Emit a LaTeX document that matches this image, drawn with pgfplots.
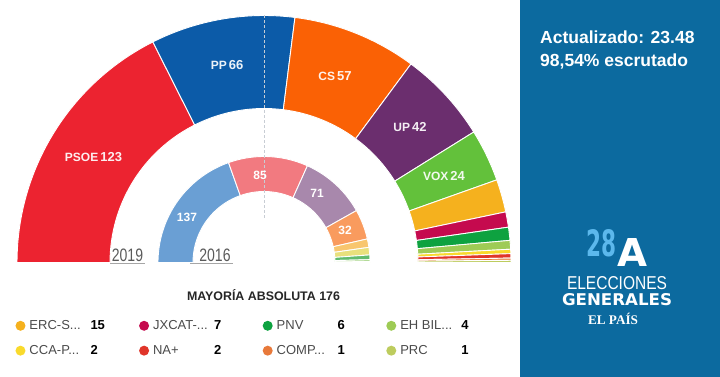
\documentclass[border=0pt]{standalone}
\usepackage{fontspec}
\setmainfont{Liberation Sans}
\newfontfamily\seriffont{Liberation Serif}
\newfontfamily\heavyfont{DejaVu Sans}
\usepackage{graphicx}
\usepackage{pgfplots}
\pgfplotsset{compat=1.18}

% outer ring (2019)
\definecolor{cPSOE}{HTML}{EC2330}
\definecolor{cPP}{HTML}{0C5BA8}
\definecolor{cCS}{HTML}{FA6105}
\definecolor{cUP}{HTML}{6B2E6E}
\definecolor{cVOX}{HTML}{63C13B}
\definecolor{cERC}{HTML}{F5B11E}
\definecolor{cJX}{HTML}{C50A4E}
\definecolor{cPNV}{HTML}{0EA240}
\definecolor{cEH}{HTML}{9ECB55}
\definecolor{cCCA}{HTML}{F9DA2C}
\definecolor{cNA}{HTML}{E0352A}
\definecolor{cCOMP}{HTML}{E8793A}
\definecolor{cPRC}{HTML}{BDCC5E}
% inner ring (2016)
\definecolor{iPP}{HTML}{6A9FD4}
\definecolor{iPSOE}{HTML}{F27A80}
\definecolor{iUP}{HTML}{A888AC}
\definecolor{iCS}{HTML}{F99B5E}
\definecolor{iERC}{HTML}{F8C66E}
\definecolor{iCDC}{HTML}{E8E07C}
\definecolor{iPNV}{HTML}{62BB6E}
\definecolor{iEH}{HTML}{A9D68A}
\definecolor{iCC}{HTML}{D9EBA8}
% misc
\definecolor{panel}{HTML}{0C6A9F}
\definecolor{logoblue}{HTML}{5CB8EC}
\definecolor{legtext}{HTML}{4A4A4A}
\definecolor{yeargray}{HTML}{5A5A5A}
\definecolor{dashgray}{HTML}{C8CDD4}

\newcommand\ringstart{\gdef\cum{0}}
% #1 seats, #2 inner radius, #3 outer radius, #4 colour, #5 extra options
\newcommand\seatwedge[5]{%
  \pgfmathsetmacro\angA{180-\cum*(180/350)}%
  \pgfmathsetmacro\newcum{\cum+#1}%
  \xdef\cum{\newcum}%
  \pgfmathsetmacro\angB{180-\cum*(180/350)}%
  \gdef\pts{}%
  \foreach \k in {0,...,40}{%
    \pgfmathsetmacro\wth{\angA+(\angB-\angA)*\k/40}%
    \pgfmathsetmacro\px{264+#3*cos(\wth)}%
    \pgfmathsetmacro\py{114.5+#3*sin(\wth)}%
    \xdef\pts{\pts(\px,\py)}}%
  \foreach \k in {0,...,40}{%
    \pgfmathsetmacro\wth{\angB-(\angB-\angA)*\k/40}%
    \pgfmathsetmacro\px{264+#2*cos(\wth)}%
    \pgfmathsetmacro\py{114.5+#2*sin(\wth)}%
    \xdef\pts{\pts(\px,\py)}}%
  \edef\doit{\noexpand\addplot[fill=#4, draw=white, line width=0.9pt, line join=round, #5] coordinates {\pts} -- cycle;}%
  \doit}

\begin{document}
\begin{tikzpicture}
\begin{axis}[
  width=720pt, height=377pt, scale only axis,
  xmin=0, xmax=720, ymin=0, ymax=377,
  hide axis,
  legend columns=4,
  legend cell align=left,
  legend image code/.code={\fill[#1,draw=none] (0pt,0pt) circle (5pt);},
  legend style={at={(axis cs:12.3,58.7)}, anchor=north west, draw=none, fill=none,
    font=\fontsize{13}{15}\selectfont, text=legtext,
    nodes={inner sep=0pt},
    row sep=14.3pt,
    /tikz/every odd column/.append style={column sep=4pt},
    /tikz/every even column/.append style={column sep=30.6pt}},
]
% full picture frame (bounding box)
\path (axis cs:0,0) rectangle (axis cs:720,377);
% background panel
\fill[panel] (axis cs:520,0) rectangle (axis cs:720,377);

% ---- 2019 ----
\ringstart
\seatwedge{123}{154}{247}{cPSOE}{forget plot}
\seatwedge{66}{154}{247}{cPP}{forget plot}
\seatwedge{57}{154}{247}{cCS}{forget plot}
\seatwedge{42}{154}{247}{cUP}{forget plot}
\seatwedge{24}{154}{247}{cVOX}{forget plot}
\seatwedge{15}{154}{247}{cERC}{}
\addlegendentry{\makebox[61pt][l]{ERC-S...}\makebox[18pt][l]{\color{black}\bfseries 15}}
\seatwedge{7}{154}{247}{cJX}{}
\addlegendentry{\makebox[61pt][l]{JXCAT-...}\makebox[18pt][l]{\color{black}\bfseries 7}}
\seatwedge{6}{154}{247}{cPNV}{}
\addlegendentry{\makebox[61pt][l]{PNV}\makebox[18pt][l]{\color{black}\bfseries 6}}
\seatwedge{4}{154}{247}{cEH}{}
\addlegendentry{\makebox[61pt][l]{EH BIL...}\makebox[18pt][l]{\color{black}\bfseries 4}}
\seatwedge{2}{154}{247}{cCCA}{}
\addlegendentry{\makebox[61pt][l]{CCA-P...}\makebox[18pt][l]{\color{black}\bfseries 2}}
\seatwedge{2}{154}{247}{cNA}{}
\addlegendentry{\makebox[61pt][l]{NA+}\makebox[18pt][l]{\color{black}\bfseries 2}}
\seatwedge{1}{154}{247}{cCOMP}{}
\addlegendentry{\makebox[61pt][l]{COMP...}\makebox[18pt][l]{\color{black}\bfseries 1}}
\seatwedge{1}{154}{247}{cPRC}{}
\addlegendentry{\makebox[61pt][l]{PRC}\makebox[18pt][l]{\color{black}\bfseries 1}}

% ---- 2016 ----
\ringstart
\seatwedge{137}{71}{106}{iPP}{forget plot}
\seatwedge{85}{71}{106}{iPSOE}{forget plot}
\seatwedge{71}{71}{106}{iUP}{forget plot}
\seatwedge{32}{71}{106}{iCS}{forget plot}
\seatwedge{9}{71}{106}{iERC}{forget plot}
\seatwedge{8}{71}{106}{iCDC}{forget plot}
\seatwedge{5}{71}{106}{iPNV}{forget plot}
\seatwedge{2}{71}{106}{iEH}{forget plot}
\seatwedge{1}{71}{106}{iCC}{forget plot}

% majority line (176 seats)
\addplot[draw=dashgray, dash pattern=on 3pt off 2pt, line width=0.8pt, forget plot]
  coordinates {(264,361.5) (264,158)};

% year baselines
\draw[gray!70, line width=0.6pt] (axis cs:110,114) -- (axis cs:145,114);
\draw[gray!70, line width=0.6pt] (axis cs:190,114) -- (axis cs:233,114);

% party labels 2019
\begin{scope}[every node/.style={text=white, text opacity=0.92, font=\bfseries\fontsize{12}{14}\selectfont, inner sep=0pt}]
\node at (axis cs:93.5,220) {PSOE\,\fontsize{13}{14}\selectfont 123};
\node at (axis cs:227,312) {PP\,\fontsize{13}{14}\selectfont 66};
\node at (axis cs:335,301) {CS\,\fontsize{13}{14}\selectfont 57};
\node at (axis cs:410,250) {UP\,\fontsize{13}{14}\selectfont 42};
\node at (axis cs:444,201) {VOX\,\fontsize{13}{14}\selectfont 24};
\end{scope}
% seat labels 2016
\begin{scope}[every node/.style={text=white, font=\bfseries\fontsize{12}{14}\selectfont, inner sep=0pt}]
\node at (axis cs:187,160) {137};
\node at (axis cs:260,202) {85};
\node at (axis cs:317,184) {71};
\node at (axis cs:345,147) {32};
\end{scope}
% years
\node[text=yeargray, inner sep=0pt] at (axis cs:127.5,122) {\scalebox{0.78}[1]{\fontsize{18}{20}\selectfont 2019}};
\node[text=yeargray, inner sep=0pt] at (axis cs:215,122) {\scalebox{0.78}[1]{\fontsize{18}{20}\selectfont 2016}};

\node[font=\bfseries\fontsize{12.4}{14}\selectfont, text=black!85, inner sep=0pt] at (axis cs:263.5,82) {MAYORÍA ABSOLUTA 176};

% right panel
\node[font=\bfseries\fontsize{17.5}{20}\selectfont, text=white, anchor=west, inner sep=0pt] at (axis cs:540,340) {Actualizado: 23.48};
\node[font=\bfseries\fontsize{17.5}{20}\selectfont, text=white, anchor=west, inner sep=0pt] at (axis cs:540,315) {98,54\% escrutado};
\node[text=logoblue, inner sep=0pt] at (axis cs:601.5,134) {\resizebox{30pt}{27pt}{\heavyfont\bfseries 28}};
\node[text=white, inner sep=0pt] at (axis cs:632,124) {\resizebox{30pt}{28pt}{\heavyfont\bfseries A}};
\node[text=white, inner sep=0pt] at (axis cs:617,94) {\resizebox{100pt}{13pt}{ELECCIONES}};
\node[text=white, inner sep=0pt] at (axis cs:617,77.5) {\resizebox{110pt}{12pt}{\heavyfont\bfseries GENERALES}};
\node[text=white, inner sep=0pt, anchor=base] at (axis cs:613,52) {\resizebox{50pt}{!}{\seriffont\bfseries EL PAÍS}};
\end{axis}
\end{tikzpicture}
\end{document}
